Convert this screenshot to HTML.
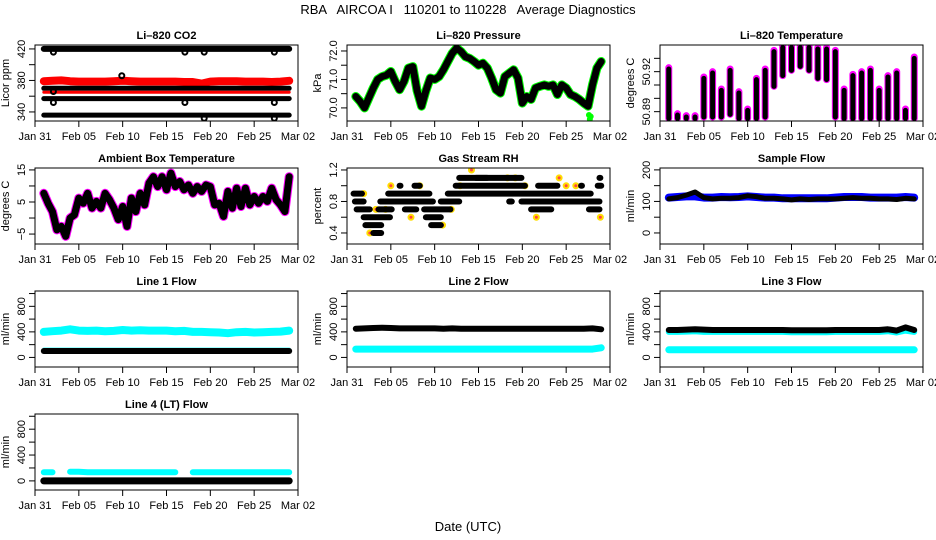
<!DOCTYPE html>
<html><head><meta charset="utf-8"><style>
body{margin:0;background:#fff;}
svg{display:block;font-family:"Liberation Sans",Arial,sans-serif;}
</style></head><body>
<svg id="c" width="936" height="540" viewBox="0 0 936 540">
<text x="468" y="14" text-anchor="middle" font-size="13" style="white-space:pre" xml:space="preserve">RBA   AIRCOA I   110201 to 110228   Average Diagnostics</text>
<text x="468" y="531" text-anchor="middle" font-size="13">Date (UTC)</text>
</svg>
<script>
const xTickDays = [0,5,10,15,20,25,30];
const xTickLabels = ["Jan 31","Feb 05","Feb 10","Feb 15","Feb 20","Feb 25","Mar 02"];
const D = [1,2,3,4,5,6,7,8,9,10,11,12,13,14,15,16,17,18,19,20,21,22,23,24,25,26,27,28,29];
const H = [1,1.5,2,2.5,3,3.5,4,4.5,5,5.5,6,6.5,7,7.5,8,8.5,9,9.5,10,10.5,11,11.5,12,12.5,13,13.5,14,14.5,15,15.5,16,16.5,17,17.5,18,18.5,19,19.5,20,20.5,21,21.5,22,22.5,23,23.5,24,24.5,25,25.5,26,26.5,27,27.5,28,28.5,29];
// CO2
const co2Top = [420,420,420,420,420,420,420,420,420,420,420,420,420,420,420,420,420,420,420,420,420,420,420,420,420,420,420,420,420];
const co2Mid = [370,370,370,370,370,370,370,370,370,370,370,370,370,370,370,370,370,370,370,370,370,370,370,370,370,370,370,370,370];
const co2Low = [357,357,357,357,357,357,357,357,357,357,357,357,357,357,357,357,357,357,357,357,357,357,357,357,357,357,357,357,357];
const co2Bot = [336,336,336,336,336,336,336,336,336,336,336,336,336,336,336,336,336,336,336,336,336,336,336,336,336,336,336,336,336];
const co2Red = [379,379.5,380,379,378.5,378.5,378.5,378.5,379,379.5,379,378.5,378.5,378.5,378.5,378.5,378,378,376,378.5,379,379,379,378.5,378.5,378.5,378,378.5,379.5];
const co2Red2 = [365,365,365,365,365,365,365,365,365,365,365,365,365,365,365,365,365,365,365,365,365,365,365,365,365,365,365,365,365];
const co2DipDays = [2.1,2.1,2.1,17.1,17.1,19.3,19.3,27.3,27.3,27.3,9.9];
const co2DipVals = [416,366,352,416,352,416,332,416,352,332,386];
// Pressure
const pres = [70.4,70.23,70.0,70.35,70.7,71.0,71.1,71.15,71.28,70.93,70.64,70.93,71.4,71.45,70.6,70.06,70.6,71.05,71.0,71.1,71.34,71.63,71.92,72.1,71.98,71.8,71.74,71.63,71.5,71.57,71.4,71.05,70.64,70.52,71.1,71.22,71.34,71.05,70.17,70.4,70.3,70.7,70.76,70.81,70.76,70.81,70.47,70.81,70.7,70.47,70.4,70.3,70.17,70.06,70.81,71.4,71.63];
const presSpikeDays = [27.6,27.7,27.8];
const presSpikeVals = [69.75,69.6,69.7];
// Li-820 temperature
const ltHi = [50.922,50.8875,50.886,50.886,50.915,50.919,50.906,50.921,50.904,50.891,50.914,50.921,50.935,50.938,50.938,50.938,50.938,50.937,50.937,50.935,50.906,50.917,50.919,50.921,50.906,50.916,50.919,50.891,50.930];
const ltLo = [50.885,50.885,50.885,50.885,50.886,50.886,50.886,50.888,50.885,50.885,50.885,50.886,50.909,50.917,50.921,50.924,50.921,50.915,50.914,50.886,50.885,50.885,50.885,50.885,50.885,50.885,50.885,50.885,50.885];
// Ambient
const amb = [7.7,4.6,2,-3.7,-2.6,-5.7,0,1,6.2,4.6,7.7,3.1,5.2,3.1,7.7,5.7,3.1,-0.5,3.6,-2.6,6.2,2,7.7,4.1,10.9,12.9,9.8,12.9,8.8,14,9.8,11.4,8.8,10.3,7.7,9.8,8.3,10.3,9.8,4.1,4.6,0.5,8.3,3.1,9.3,3.6,9.3,4.1,6.7,4.6,6.7,5.2,9.3,5.7,4.1,2,12.9];
// RH
const rhStart = [3.0,2.1,9.6,1.9,9.0,1.1,3.6,6.6,8.8,21,27.6,0.9,3.8,10.7,18.5,19.9,0.75,4.7,11.5,6.0,7.7,12.4,21.8,26.7,28.6,12.8,14.7,28.8];
const rhEnd = [3.9,3.9,10.7,4.9,10.7,2.6,5.1,7.9,11.8,23.3,28.8,1.9,9.8,12.8,18.8,28.8,1.7,9.4,27.8,6.1,8.3,20.3,24.0,26.8,29.0,19.9,16.0,28.9];
const rhLevel = [0.4,0.5,0.5,0.6,0.6,0.7,0.7,0.7,0.7,0.7,0.7,0.8,0.8,0.8,0.8,0.8,0.9,0.9,0.9,1.0,1.0,1.0,1.0,1.0,1.0,1.1,1.1,1.1];
const rhYDays = [1.9,2.6,3.3,4.4,5.0,7.3,8.3,10.9,11.9,12.9,14.2,18.3,19.2,20.3,21.6,24.2,25.0,26.1,28.9];
const rhYVals = [0.9,0.4,0.7,0.7,1.0,0.6,1.0,0.5,0.7,1.0,1.2,1.1,1.1,1.0,0.6,1.1,1.0,1.0,0.6];
// Sample flow
const sfBlack = [108,112,120,130,112,108,110,110,112,118,115,110,110,108,105,108,106,108,108,108,110,112,110,110,108,108,106,110,108];
const sfBlue = [112,114,116,116,112,112,114,113,114,116,114,112,112,110,110,110,110,110,110,112,114,114,114,112,112,112,112,114,112];
// Line flows
const l1Cyan = [400,410,420,440,420,415,420,410,415,430,420,425,420,420,420,410,415,400,400,395,390,380,395,400,390,395,400,405,420];
const l1CyanLow = [130,130,130,130,130,130,130,130,130,130,130,130,130,130,130,130,130,130,130,130,130,130,130,130,130,130,130,130,130];
const l1Black = [100,100,100,100,100,100,100,100,100,100,100,100,100,100,100,100,100,100,100,100,100,100,100,100,100,100,100,100,100];
const l2Black = [450,455,460,465,460,455,455,455,455,455,450,455,450,450,450,450,448,450,448,450,450,448,448,450,450,450,450,455,440];
const l2Cyan = [130,130,130,130,130,130,130,130,130,130,130,130,130,130,130,130,130,130,130,130,130,130,130,130,130,130,130,130,150];
const l3Cyan = [400,400,405,410,400,400,400,400,400,400,400,400,400,400,395,395,395,395,395,400,400,400,400,400,400,410,390,420,400];
const l3Black = [430,430,435,440,435,430,430,430,430,430,430,430,430,430,425,425,425,425,425,430,430,430,430,430,430,440,420,470,430];
const l3CyanLow = [120,120,120,120,120,120,120,120,120,120,120,120,120,120,120,120,120,120,120,120,120,120,120,120,120,120,120,120,120];
const l4Cyan = [135,135,null,140,140,135,135,135,135,135,135,135,135,135,135,135,null,135,135,135,135,135,135,135,135,135,135,135,135];
const l4Black = [0,0,0,0,0,0,0,0,0,0,0,0,0,0,0,0,0,0,0,0,0,0,0,0,0,0,0,0,0];

const NS = "http://www.w3.org/2000/svg";
const svg = document.getElementById('c');
function mk(tag, attrs, parent){const e=document.createElementNS(NS,tag);for(const k in attrs)e.setAttribute(k,attrs[k]);(parent||svg).appendChild(e);return e;}

function panel(p){
  const g = mk('g',{});
  
  
  const W=263,Hh=76;
  const xs=d=>p.left+d/30*W;
  const ys=v=>p.top+(p.ymax-v)/(p.ymax-p.ymin)*Hh;
  const clip='cl'+p.name;
  const cp=mk('clipPath',{id:clip},g); mk('rect',{x:p.left,y:p.top,width:W,height:Hh},cp);
  const data=mk('g',{'clip-path':'url(#'+clip+')'},g);
  p.draw(data,xs,ys);
  const box=mk('rect',{x:p.left,y:p.top,width:W,height:Hh,fill:'none',stroke:'#000','stroke-width':1},g);
  
  
  const t=mk('text',{x:p.left+W/2,y:p.top-6,'text-anchor':'middle','font-size':11,'font-weight':'bold'},g);
  t.textContent=p.title;
  
  
  xTickDays.forEach((d,i)=>{
    const x=xs(d);
    mk('line',{x1:x,x2:x,y1:p.top+Hh,y2:p.top+Hh+6,stroke:'#000'},g);
    const tl=mk('text',{x:x,y:p.top+Hh+19,'text-anchor':'middle','font-size':11},g);
    tl.textContent=xTickLabels[i];
    
    
  });
  p.yTicks.forEach((v,i)=>{
    const y=ys(v);
    mk('line',{x1:p.left-6,x2:p.left,y1:y,y2:y,stroke:'#000'},g);
    if(p.yLabels[i]){
      const yl=mk('text',{x:0,y:0,'text-anchor':'middle','font-size':11,transform:`translate(${p.left-10},${y}) rotate(-90)`},g);
      yl.textContent=p.yLabels[i];
      
      
    }
  });
  const yt=mk('text',{x:0,y:0,'text-anchor':'middle','font-size':11,transform:`translate(${p.left-26},${p.top+Hh/2}) rotate(-90)`},g);
  yt.textContent=p.ylab;
  
  
}
function line(parent,xs,ys,days,vals,color,w,name){
  let d='',pen=false;
  days.forEach((dd,i)=>{const v=vals[i]; if(v===null||v===undefined){pen=false;return;} d+=(pen?'L':'M')+xs(dd).toFixed(1)+','+ys(v).toFixed(1); pen=true;});
  const e=mk('path',{d:d,fill:'none',stroke:color,'stroke-width':w,'stroke-linecap':'round','stroke-linejoin':'round'},parent);
  
  
}
function pts(parent,xs,ys,days,vals,color,r,fill,name){
  days.forEach((d,i)=>{
    const c=mk('circle',{cx:xs(d),cy:ys(vals[i]),r:r,fill:fill,stroke:color,'stroke-width':2},parent);
    
    
  });
}
const L=[35,347,660], T=[45,168,291,414];
const flowTicks=[0,200,400,600,800,1000], flowLabels=["0","","400","","800",""];

panel({name:'co2-panel',title:'Li\u2013820 CO2',ylab:'Licor ppm',left:L[0],top:T[0],ymin:328.5,ymax:425,
  yTicks:[340,360,380,400,420],yLabels:["340","","380","","420"],
  draw:(g,xs,ys)=>{
    line(g,xs,ys,D,co2Top,'#000',6,'co2-series-top');
    line(g,xs,ys,D,co2Red,'#f00',8,'co2-series-red');
    line(g,xs,ys,D,co2Mid,'#000',5,'co2-series-mid');
    line(g,xs,ys,D,co2Red2,'#f00',3,'co2-series-red2');
    line(g,xs,ys,D,co2Low,'#000',5,'co2-series-low');
    line(g,xs,ys,D,co2Bot,'#000',5,'co2-series-bottom');
    pts(g,xs,ys,co2DipDays,co2DipVals,'#000',2.5,'none','co2-dip-point');
  }});
panel({name:'pressure-panel',title:'Li\u2013820 Pressure',ylab:'kPa',left:L[1],top:T[0],ymin:69.54,ymax:72.21,
  yTicks:[70,70.5,71,71.5,72],yLabels:["70.0","","71.0","","72.0"],
  draw:(g,xs,ys)=>{
    line(g,xs,ys,H,pres,'#0f0',9,'pressure-green');
    pts(g,xs,ys,presSpikeDays,presSpikeVals,'#0f0',2,'#0f0','pressure-spike');
    line(g,xs,ys,H,pres,'#000',7,'pressure-black');
  }});
panel({name:'li820-temp-panel',title:'Li\u2013820 Temperature',ylab:'degrees C',left:L[2],top:T[0],ymin:50.883,ymax:50.940,
  yTicks:[50.89,50.90,50.91,50.92,50.93],yLabels:["50.89","","","50.92",""],
  draw:(g,xs,ys)=>{
    D.forEach((d,i)=>{
      const m=mk('line',{x1:xs(d),x2:xs(d),y1:ys(ltHi[i]+0.001),y2:ys(ltLo[i]),stroke:'#f0f','stroke-width':7,'stroke-linecap':'round'},g);
      
      
      const b=mk('line',{x1:xs(d),x2:xs(d),y1:ys(ltHi[i]),y2:ys(ltLo[i]),stroke:'#000','stroke-width':5,'stroke-linecap':'round'},g);
      
      
    });
  }});
panel({name:'ambient-panel',title:'Ambient Box Temperature',ylab:'degrees C',left:L[0],top:T[1],ymin:-8.1,ymax:15.6,
  yTicks:[-5,0,5,10,15],yLabels:["\u22125","","5","","15"],
  draw:(g,xs,ys)=>{
    line(g,xs,ys,H,amb,'#f0f',9,'ambient-magenta');
    line(g,xs,ys,H,amb,'#000',7,'ambient-black');
  }});
panel({name:'rh-panel',title:'Gas Stream RH',ylab:'percent',left:L[1],top:T[1],ymin:0.26,ymax:1.225,
  yTicks:[0.4,0.6,0.8,1.0,1.2],yLabels:["0.4","","0.8","","1.2"],
  draw:(g,xs,ys)=>{
    pts(g,xs,ys,rhYDays,rhYVals,'#fd0',2.5,'#f44','rh-yellow-point');
    rhStart.forEach((s,i)=>{
      const e=mk('line',{x1:xs(s),x2:xs(rhEnd[i]),y1:ys(rhLevel[i]),y2:ys(rhLevel[i]),stroke:'#000','stroke-width':6,'stroke-linecap':'round'},g);
      
      
    });
  }});
panel({name:'sample-flow-panel',title:'Sample Flow',ylab:'ml/min',left:L[2],top:T[1],ymin:-35,ymax:206,
  yTicks:[0,50,100,150,200],yLabels:["0","","100","","200"],
  draw:(g,xs,ys)=>{
    line(g,xs,ys,D,sfBlue,'#00f',8,'sample-flow-blue');
    line(g,xs,ys,D,sfBlack,'#000',5,'sample-flow-black');
  }});
panel({name:'line1-panel',title:'Line 1 Flow',ylab:'ml/min',left:L[0],top:T[2],ymin:-150,ymax:1040,
  yTicks:flowTicks,yLabels:flowLabels,
  draw:(g,xs,ys)=>{
    line(g,xs,ys,D,l1Cyan,'#0ff',8,'line1-cyan');
    line(g,xs,ys,D,l1CyanLow,'#0ff',3,'line1-cyan-low');
    line(g,xs,ys,D,l1Black,'#000',6,'line1-black');
  }});
panel({name:'line2-panel',title:'Line 2 Flow',ylab:'ml/min',left:L[1],top:T[2],ymin:-150,ymax:1040,
  yTicks:flowTicks,yLabels:flowLabels,
  draw:(g,xs,ys)=>{
    line(g,xs,ys,D,l2Cyan,'#0ff',7,'line2-cyan');
    line(g,xs,ys,D,l2Black,'#000',6,'line2-black');
  }});
panel({name:'line3-panel',title:'Line 3 Flow',ylab:'ml/min',left:L[2],top:T[2],ymin:-150,ymax:1040,
  yTicks:flowTicks,yLabels:flowLabels,
  draw:(g,xs,ys)=>{
    line(g,xs,ys,D,l3Cyan,'#0ff',6,'line3-cyan');
    line(g,xs,ys,D,l3CyanLow,'#0ff',7,'line3-cyan-low');
    line(g,xs,ys,D,l3Black,'#000',6,'line3-black');
  }});
panel({name:'line4-panel',title:'Line 4 (LT) Flow',ylab:'ml/min',left:L[0],top:T[3],ymin:-141,ymax:1035,
  yTicks:flowTicks,yLabels:flowLabels,
  draw:(g,xs,ys)=>{
    line(g,xs,ys,D,l4Cyan,'#0ff',6,'line4-cyan');
    line(g,xs,ys,D,l4Black,'#000',7,'line4-black');
  }});
</script>
</body></html>
